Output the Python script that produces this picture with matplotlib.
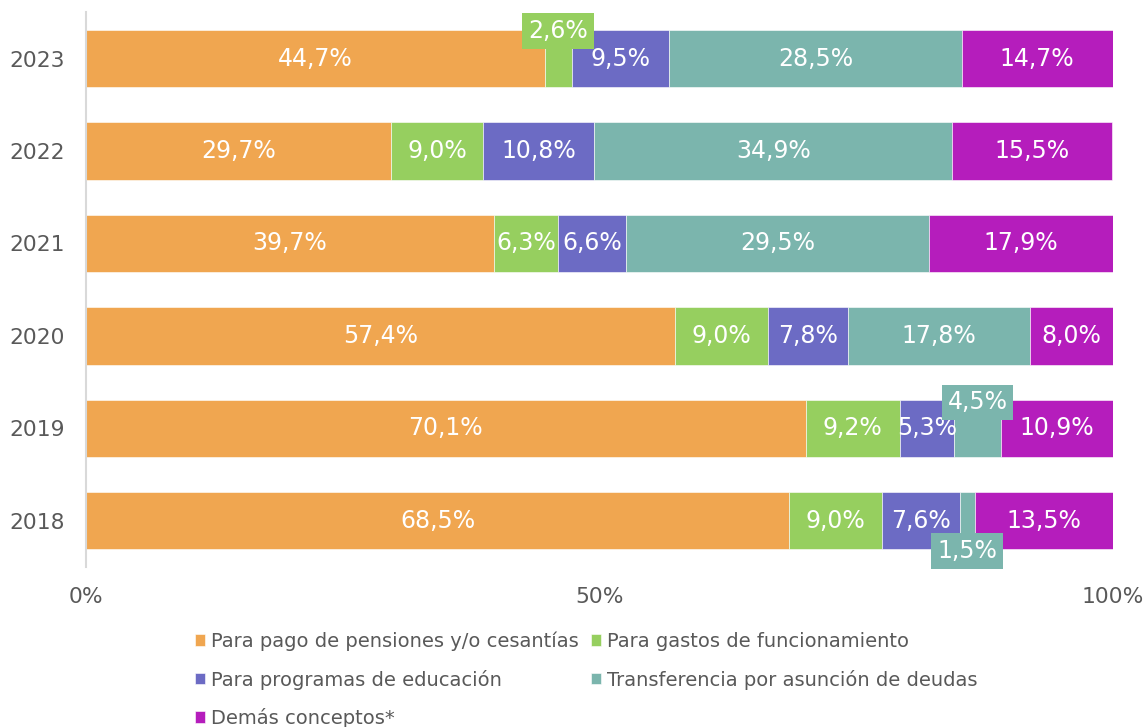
import matplotlib.pyplot as plt
import numpy as np

plt.rcParams["font.family"] = ["DejaVu Sans"]

years = ["2023", "2022", "2021", "2020", "2019", "2018"]
series = [
    "Para pago de pensiones y/o cesantías",
    "Para gastos de funcionamiento",
    "Para programas de educación",
    "Transferencia por asunción de deudas",
    "Demás conceptos*",
]
pensiones = [44.7, 29.7, 39.7, 57.4, 70.1, 68.5]
funcionamiento = [2.6, 9.0, 6.3, 9.0, 9.2, 9.0]
educacion = [9.5, 10.8, 6.6, 7.8, 5.3, 7.6]
deudas = [28.5, 34.9, 29.5, 17.8, 4.5, 1.5]
demas = [14.7, 15.5, 17.9, 8.0, 10.9, 13.5]

colors = ["#F0A650", "#96CF5F", "#6C6BC4", "#7BB5AD", "#B51DBC"]

# small segments get a callout box instead of an inside label: (year, series) -> offset
callouts = {("2023", 1): 0.30, ("2019", 3): 0.28, ("2018", 3): -0.33}

fig = plt.figure(figsize=(11.47, 7.27), dpi=100)
ax = fig.add_axes([0.075, 0.22, 0.895, 0.763])

data = [pensiones, funcionamiento, educacion, deudas, demas]
y = np.arange(len(years))[::-1]
left = np.zeros(len(years))
handles = []
for s, vals in enumerate(data):
    vals = np.array(vals)
    bars = ax.barh(y, vals, left=left, height=0.62, color=colors[s],
                   edgecolor="white", linewidth=0.4, label=series[s])
    handles.append(bars)
    for i, v in enumerate(vals):
        txt = f"{v:.1f}%".replace(".", ",")
        cx = left[i] + v / 2
        key = (years[i], s)
        if key in callouts:
            ax.text(cx, y[i] + callouts[key], txt, ha="center", va="center",
                    color="white", fontsize=17, zorder=5,
                    bbox=dict(boxstyle="square,pad=0.25", fc=colors[s], ec="none"))
        else:
            ax.text(cx, y[i], txt, ha="center", va="center", color="white", fontsize=17)
    left += vals

ax.set_xlim(0, 100)
ax.set_ylim(-0.5, len(years) - 0.5)
ax.set_yticks(y)
ax.set_yticklabels(years)
ax.set_xticks([0, 50, 100])
ax.set_xticklabels(["0%", "50%", "100%"])
ax.tick_params(axis="both", length=0, labelsize=15.7, colors="#595959")
ax.tick_params(axis="x", pad=14)
ax.tick_params(axis="y", pad=15)
for side in ["top", "right", "bottom"]:
    ax.spines[side].set_visible(False)
ax.spines["left"].set_color("#D9D9D9")
ax.spines["left"].set_linewidth(1.5)

order = [0, 2, 4, 1, 3]
fig.legend([handles[k] for k in order], [series[k] for k in order],
           loc="upper center", bbox_to_anchor=(0.511, 0.142), ncol=2,
           frameon=False, fontsize=14, handlelength=0.55, handleheight=0.55,
           handletextpad=0.3, columnspacing=0.6, labelspacing=0.95,
           borderaxespad=0, labelcolor="#595959")

fig.savefig("out.png", dpi=100)
